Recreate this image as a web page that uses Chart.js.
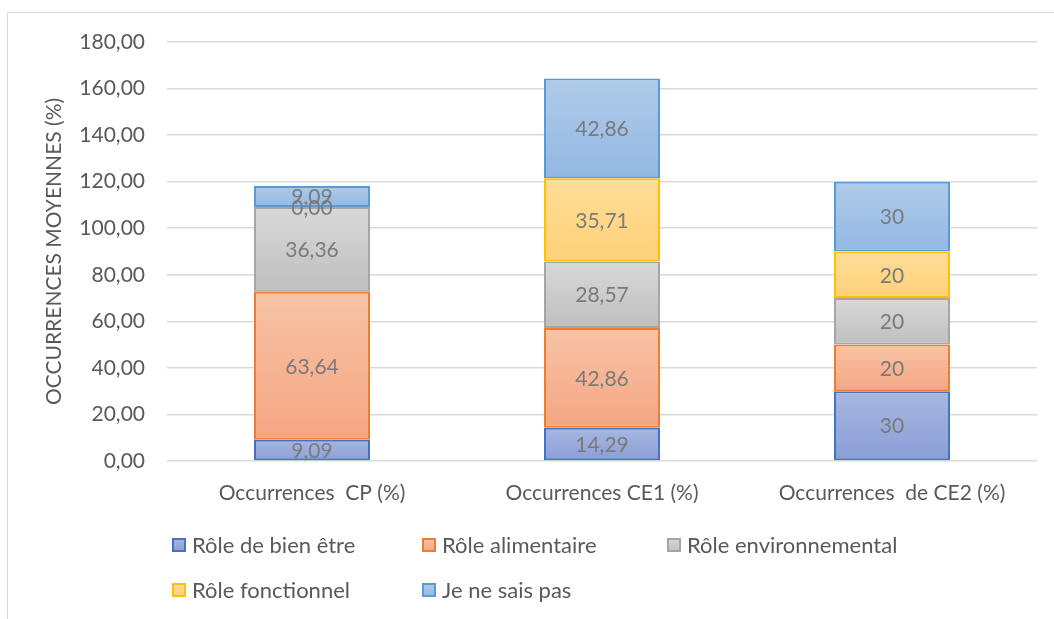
<!DOCTYPE html>
<html><head><meta charset="utf-8">
<script src="https://cdn.jsdelivr.net/npm/chart.js@4.4.0/dist/chart.umd.min.js"></script>
<style>html,body{margin:0;padding:0;background:#fff;overflow:hidden}#wrap{position:relative;width:1054px;height:619px}</style>
</head><body><div id="wrap"><canvas id="c" width="1054" height="619"></canvas></div>
<script>
const categories = ['Occurrences  CP (%)', 'Occurrences CE1 (%)', 'Occurrences  de CE2 (%)'];
const seriesNames = ['Rôle de bien être', 'Rôle alimentaire', 'Rôle environnemental', 'Rôle fonctionnel', 'Je ne sais pas'];
const bienEtre = [9.09, 14.29, 30];
const alimentaire = [63.64, 42.86, 20];
const environnemental = [36.36, 28.57, 20];
const fonctionnel = [0.00, 35.71, 20];
const neSaisPas = [9.09, 42.86, 30];
const labelDecimals = [2, 2, 0];
const yTicks = [0, 20, 40, 60, 80, 100, 120, 140, 160, 180];
const yTitle = 'OCCURRENCES MOYENNES (%)';

const seriesData = [bienEtre, alimentaire, environnemental, fonctionnel, neSaisPas];
const fillTop = ['#A8B7E1', '#F8C3A7', '#D8D8D8', '#FFDD99', '#AFCBEA'];
const fillBottom = ['#8A9ED7', '#F4A682', '#BFBFBF', '#FFD178', '#93B8E2'];
const borders = ['#4472C4', '#ED7D31', '#A5A5A5', '#FFC000', '#5B9BD5'];
const FONT = 'Lato';
const axisColor = '#595959';
const labelColor = '#7A7A7A';

function makeFill(idx) {
  return (ctx) => {
    const chart = ctx.chart;
    const y = chart.scales && chart.scales.y;
    if (!y || !chart.chartArea || ctx.dataIndex === undefined) return fillBottom[idx];
    let start = 0;
    for (let k = 0; k < idx; k++) start += seriesData[k][ctx.dataIndex];
    const end = start + seriesData[idx][ctx.dataIndex];
    const p0 = y.getPixelForValue(end), p1 = y.getPixelForValue(start);
    if (!isFinite(p0) || !isFinite(p1) || p1 - p0 < 1) return fillBottom[idx];
    const g = chart.ctx.createLinearGradient(0, p0, 0, p1);
    g.addColorStop(0, fillTop[idx]);
    g.addColorStop(1, fillBottom[idx]);
    return g;
  };
}

const datasets = seriesData.map((d, i) => ({
  label: seriesNames[i],
  data: d,
  backgroundColor: makeFill(i),
  borderColor: borders[i],
  borderWidth: (ctx) => (seriesData[i][ctx.dataIndex] === 0 ? 0 : 2),
  borderSkipped: false,
  categoryPercentage: 0.8,
  barPercentage: 0.5
}));

const frame = {
  id: 'frame',
  beforeDraw(chart) {
    const c = chart.ctx;
    c.save();
    c.fillStyle = '#fff';
    c.fillRect(0, 0, chart.width, chart.height);
    c.strokeStyle = '#D9D9D9';
    c.lineWidth = 1;
    c.beginPath();
    c.moveTo(7.5, 12);
    c.lineTo(7.5, chart.height);
    c.moveTo(7, 12.5);
    c.lineTo(chart.width, 12.5);
    c.stroke();
    c.restore();
  }
};

const dataLabels = {
  id: 'dataLabels',
  afterDatasetsDraw(chart) {
    const c = chart.ctx;
    c.save();
    c.font = '21px ' + FONT;
    c.fillStyle = labelColor;
    c.textAlign = 'center';
    c.textBaseline = 'middle';
    chart.data.datasets.forEach((ds, i) => {
      const meta = chart.getDatasetMeta(i);
      meta.data.forEach((el, j) => {
        const v = ds.data[j];
        const txt = v.toFixed(labelDecimals[j]).replace('.', ',');
        c.fillText(txt, el.x, (el.y + el.base) / 2 + 1);
      });
    });
    c.restore();
  }
};

const legendCols = [172, 422, 667];
const legendRows = [545, 590];
const customLegend = {
  id: 'customLegend',
  afterDraw(chart) {
    const c = chart.ctx;
    c.save();
    c.font = '22px ' + FONT;
    c.textBaseline = 'middle';
    c.textAlign = 'left';
    chart.data.datasets.forEach((ds, i) => {
      const x = legendCols[i % 3];
      const y = legendRows[Math.floor(i / 3)];
      const g = c.createLinearGradient(0, y - 7, 0, y + 7);
      g.addColorStop(0, fillTop[i]);
      g.addColorStop(1, fillBottom[i]);
      c.fillStyle = g;
      c.fillRect(x, y - 7, 14, 14);
      c.strokeStyle = borders[i];
      c.lineWidth = 2;
      c.strokeRect(x + 1, y - 6, 12, 12);
      c.fillStyle = axisColor;
      c.fillText(ds.label, x + 20, y + 1);
    });
    c.restore();
  }
};

const PAD_LEFT = 20;
new Chart(document.getElementById('c'), {
  type: 'bar',
  data: { labels: categories, datasets },
  options: {
    responsive: false,
    animation: false,
    devicePixelRatio: 1,
    layout: { padding: { left: PAD_LEFT, right: 17, top: 42, bottom: 98 } },
    plugins: { legend: { display: false }, tooltip: { enabled: false } },
    scales: {
      x: {
        stacked: true,
        grid: { display: false, drawTicks: false },
        border: { display: false },
        ticks: { color: axisColor, font: { family: FONT, size: 21 }, padding: 20, maxRotation: 0 },
        afterFit(s) { s.height = 60; }
      },
      y: {
        stacked: true,
        min: 0, max: 180,
        afterBuildTicks(s) { s.ticks = yTicks.map(v => ({ value: v })); },
        grid: { color: '#D9D9D9', lineWidth: 1.5, drawTicks: false },
        border: { display: false },
        ticks: {
          color: axisColor, font: { family: FONT, size: 21 }, padding: 22,
          callback: (v) => Number(v).toFixed(2).replace('.', ',')
        },
        title: { display: true, text: yTitle, color: axisColor, font: { family: FONT, size: 21 }, padding: { top: 22, bottom: 0 } },
        afterFit(s) { s.width = 167 - PAD_LEFT; }
      }
    }
  },
  plugins: [frame, dataLabels, customLegend]
});
</script></body></html>
